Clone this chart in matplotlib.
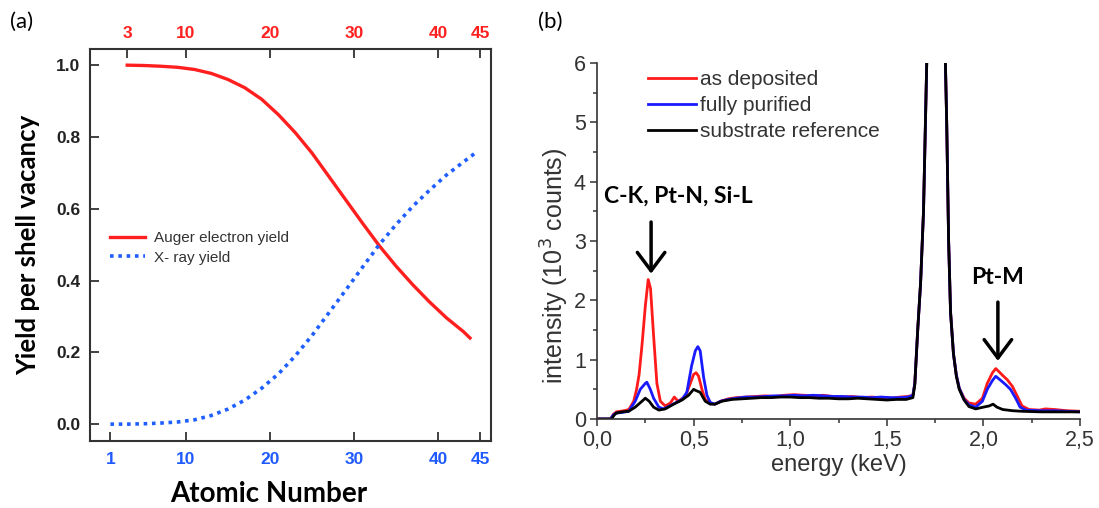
import matplotlib
matplotlib.use("Agg")
import matplotlib.pyplot as plt
from matplotlib.ticker import MultipleLocator
import numpy as np

# ---- panel (a): fluorescence / Auger yield vs atomic number ----
auger_z = [3, 5, 7, 9, 11, 13, 15, 17, 19, 21, 23, 25, 27, 29, 31, 33, 35, 37, 39, 41, 43, 43.8]
auger_yield = [1.0, 0.999, 0.997, 0.994, 0.988, 0.977, 0.960, 0.937, 0.905, 0.862, 0.812,
               0.755, 0.690, 0.625, 0.560, 0.497, 0.440, 0.388, 0.340, 0.296, 0.258, 0.240]
xray_z = [1, 3, 5, 7, 9, 11, 13, 15, 17, 19, 21, 23, 25, 27, 29, 31, 33, 35, 37, 39, 41, 43, 44.7]
xray_yield = [0.0, 0.0, 0.001, 0.003, 0.006, 0.012, 0.024, 0.042, 0.067, 0.100, 0.140, 0.190,
              0.247, 0.310, 0.373, 0.437, 0.500, 0.556, 0.607, 0.652, 0.694, 0.730, 0.760]
top_ticks = [3, 10, 20, 30, 40, 45]
bottom_ticks = [1, 10, 20, 30, 40, 45]

# ---- panel (b): EDX spectra (energy keV, 10^3 counts) ----
as_deposited = [
    (0.0, 0.0), (0.07, 0.0), (0.085, 0.08), (0.10, 0.12), (0.12, 0.13), (0.14, 0.14),
    (0.165, 0.16), (0.19, 0.30), (0.205, 0.50), (0.218, 0.75), (0.233, 1.25),
    (0.25, 1.90), (0.265, 2.35), (0.277, 2.20), (0.293, 1.40), (0.31, 0.60),
    (0.328, 0.30), (0.353, 0.22), (0.38, 0.27), (0.40, 0.37), (0.42, 0.30),
    (0.457, 0.38), (0.483, 0.60), (0.50, 0.75), (0.513, 0.78), (0.526, 0.72),
    (0.543, 0.50), (0.56, 0.33), (0.586, 0.27), (0.61, 0.25), (0.64, 0.30),
    (0.68, 0.34), (0.72, 0.36), (0.77, 0.37), (0.82, 0.38), (0.87, 0.39),
    (0.92, 0.38), (0.97, 0.40), (1.02, 0.41), (1.07, 0.40), (1.12, 0.39),
    (1.17, 0.40), (1.22, 0.38), (1.27, 0.37), (1.32, 0.38), (1.37, 0.36),
    (1.42, 0.37), (1.47, 0.36), (1.52, 0.35), (1.57, 0.37), (1.61, 0.38),
    (1.635, 0.40), (1.645, 0.60), (1.66, 1.50), (1.675, 2.30), (1.69, 3.50),
    (1.70, 5.00), (1.71, 6.50), (1.73, 10.0), (1.75, 13.0), (1.78, 10.0),
    (1.80, 6.50), (1.81, 5.00), (1.82, 3.00), (1.83, 1.80), (1.845, 1.10),
    (1.86, 0.74), (1.875, 0.52), (1.90, 0.35), (1.925, 0.27), (1.96, 0.25),
    (1.995, 0.35), (2.02, 0.60), (2.047, 0.78), (2.064, 0.85), (2.08, 0.80),
    (2.098, 0.74), (2.124, 0.66), (2.15, 0.55), (2.176, 0.38), (2.20, 0.22),
    (2.236, 0.16), (2.29, 0.15), (2.32, 0.17), (2.37, 0.16), (2.43, 0.14),
    (2.50, 0.13),
]
fully_purified = [
    (0.0, 0.0), (0.07, 0.0), (0.085, 0.07), (0.10, 0.10), (0.13, 0.11), (0.164, 0.13),
    (0.198, 0.30), (0.224, 0.50), (0.25, 0.60), (0.258, 0.62), (0.276, 0.50),
    (0.293, 0.35), (0.32, 0.20), (0.345, 0.17), (0.388, 0.24), (0.44, 0.33),
    (0.465, 0.45), (0.49, 0.90), (0.509, 1.15), (0.522, 1.22), (0.534, 1.15),
    (0.552, 0.70), (0.569, 0.40), (0.586, 0.28), (0.61, 0.25), (0.64, 0.30),
    (0.68, 0.33), (0.72, 0.35), (0.77, 0.37), (0.82, 0.37), (0.87, 0.38),
    (0.92, 0.39), (0.97, 0.39), (1.02, 0.40), (1.07, 0.39), (1.12, 0.40),
    (1.17, 0.39), (1.22, 0.38), (1.27, 0.38), (1.32, 0.37), (1.37, 0.37),
    (1.42, 0.36), (1.47, 0.37), (1.52, 0.36), (1.57, 0.36), (1.61, 0.37),
    (1.635, 0.40), (1.645, 0.60), (1.66, 1.50), (1.675, 2.30), (1.69, 3.50),
    (1.70, 5.00), (1.71, 6.50), (1.73, 10.0), (1.75, 13.0), (1.78, 10.0),
    (1.80, 6.50), (1.81, 5.00), (1.82, 3.00), (1.83, 1.80), (1.845, 1.10),
    (1.86, 0.74), (1.875, 0.52), (1.90, 0.33), (1.925, 0.24), (1.96, 0.20),
    (1.995, 0.30), (2.02, 0.50), (2.047, 0.65), (2.064, 0.72), (2.09, 0.65),
    (2.115, 0.58), (2.14, 0.50), (2.167, 0.35), (2.19, 0.20), (2.22, 0.15),
    (2.29, 0.14), (2.37, 0.14), (2.43, 0.13), (2.50, 0.12),
]
substrate_ref = [
    (0.0, 0.0), (0.075, 0.0), (0.09, 0.07), (0.10, 0.10), (0.13, 0.12), (0.164, 0.13),
    (0.198, 0.20), (0.233, 0.30), (0.25, 0.35), (0.27, 0.30), (0.293, 0.20),
    (0.32, 0.15), (0.353, 0.17), (0.397, 0.25), (0.44, 0.32), (0.474, 0.40),
    (0.50, 0.50), (0.512, 0.48), (0.534, 0.45), (0.56, 0.30), (0.586, 0.25),
    (0.61, 0.25), (0.647, 0.30), (0.70, 0.33), (0.75, 0.34), (0.80, 0.35),
    (0.85, 0.36), (0.90, 0.36), (0.95, 0.37), (1.00, 0.37), (1.05, 0.36),
    (1.10, 0.36), (1.15, 0.35), (1.20, 0.35), (1.25, 0.34), (1.30, 0.34),
    (1.35, 0.35), (1.40, 0.34), (1.45, 0.33), (1.50, 0.32), (1.55, 0.33),
    (1.60, 0.33), (1.635, 0.36), (1.645, 0.58), (1.66, 1.50), (1.675, 2.30),
    (1.69, 3.50), (1.70, 5.00), (1.71, 6.50), (1.73, 10.0), (1.75, 13.0),
    (1.78, 10.0), (1.80, 6.50), (1.81, 5.00), (1.82, 3.00), (1.83, 1.80),
    (1.845, 1.10), (1.86, 0.72), (1.875, 0.50), (1.90, 0.32), (1.925, 0.21),
    (1.96, 0.17), (2.00, 0.20), (2.03, 0.22), (2.05, 0.25), (2.07, 0.20),
    (2.10, 0.16), (2.15, 0.14), (2.20, 0.13), (2.30, 0.12), (2.40, 0.12),
    (2.50, 0.12),
]
spectra_labels = ["as deposited", "fully purified", "substrate reference"]
spectra_colors = ["#ff1a1a", "#1a1aff", "black"]

fig = plt.figure(figsize=(10.99, 5.08), dpi=100)
W, H = 1099, 508

# panel (a) ---------------------------------------------------------
ax1 = fig.add_axes([90 / W, (H - 441) / H, 401 / W, 392 / H])
ax1.plot(auger_z, auger_yield, color="#ff1f1f", lw=2.4, label="Auger electron yield")
ax1.plot(xray_z, xray_yield, color="#1f5fff", lw=2.6, ls=(0, (1, 1.3)), label="X- ray yield")
ax1.set_xlim(-1.43, 46.3)
ax1.set_ylim(-0.047, 1.045)
ax1.set_yticks([0.0, 0.2, 0.4, 0.6, 0.8, 1.0])
ax1.set_yticklabels(["0.0", "0.2", "0.4", "0.6", "0.8", "1.0"])
ax1.set_xticks(bottom_ticks)
for s in ax1.spines.values():
    s.set_color("#333333")
    s.set_linewidth(1.5)
ax1.tick_params(direction="in", length=6.5, width=1.3, color="#333333", pad=8)
ax1.tick_params(axis="x", labelcolor="#1f5aff")
ax1.tick_params(axis="y", labelcolor="#222222", pad=7)
for lab in ax1.get_xticklabels() + ax1.get_yticklabels():
    lab.set_fontfamily("Liberation Sans")
    lab.set_fontweight("bold")
    lab.set_fontsize(12.5)

sec = ax1.secondary_xaxis("top")
sec.set_xticks(top_ticks)
sec.tick_params(direction="in", length=6.5, width=1.3, color="#333333", labelcolor="#ff2020", pad=6)
for lab in sec.get_xticklabels():
    lab.set_fontfamily("Liberation Sans")
    lab.set_fontweight("bold")
    lab.set_fontsize(12.5)
sec.spines["top"].set_visible(False)

ax1.set_xlabel("Atomic Number", family="Lato", fontweight="bold", fontsize=20)
ax1.xaxis.label.set_va("center")
ax1.xaxis.set_label_coords(0.446, -0.135)
ax1.set_ylabel("Yield per shell vacancy", family="Lato", fontweight="bold", fontsize=18.5)
ax1.yaxis.label.set_va("center")
ax1.yaxis.set_label_coords(-0.155, 0.5)
leg1 = ax1.legend(loc="upper left", bbox_to_anchor=(0.05, 0.535), frameon=False,
                  borderpad=0, borderaxespad=0, handlelength=2.3, handletextpad=0.6,
                  labelspacing=0.35, prop={"family": "Liberation Sans", "size": 11})
for t in leg1.get_texts():
    t.set_color("#333333")

# panel (b) ---------------------------------------------------------
ax2 = fig.add_axes([597 / W, (H - 419) / H, 483 / W, 356 / H])
for pts, lab, col in zip([as_deposited, fully_purified, substrate_ref], spectra_labels, spectra_colors):
    arr = np.array(pts)
    ax2.plot(arr[:, 0], arr[:, 1], color=col, lw=2.0, label=lab)
ax2.set_xlim(0, 2.5)
ax2.set_ylim(0, 6)
ax2.spines["top"].set_visible(False)
ax2.spines["right"].set_visible(False)
for s in ("left", "bottom"):
    ax2.spines[s].set_color("#333333")
    ax2.spines[s].set_linewidth(1.2)
ax2.xaxis.set_major_locator(MultipleLocator(0.5))
ax2.xaxis.set_minor_locator(MultipleLocator(0.25))
ax2.yaxis.set_major_locator(MultipleLocator(1))
ax2.yaxis.set_minor_locator(MultipleLocator(0.5))
ax2.set_xticklabels([f"{v:.1f}".replace(".", ",") for v in ax2.get_xticks()])
ax2.tick_params(which="major", direction="out", length=5, width=1.1, color="#333333",
                labelsize=15.5, labelcolor="#333333", pad=3)
ax2.tick_params(which="minor", direction="out", length=3, width=1.1, color="#333333")
for lab in ax2.get_xticklabels() + ax2.get_yticklabels():
    lab.set_fontfamily("Liberation Sans")
ax2.set_xlabel("energy (keV)", family="Liberation Sans", fontsize=17, color="#333333", labelpad=2)
ax2.set_ylabel("intensity (10$^3$ counts)", family="Liberation Sans", fontsize=18,
               color="#333333")
ax2.yaxis.label.set_va("center")
ax2.yaxis.set_label_coords(-0.088, 0.43)
leg2 = ax2.legend(loc="upper left", bbox_to_anchor=(0.106, 0.98), frameon=False,
                  borderpad=0, borderaxespad=0, handlelength=2.3, handletextpad=0.2,
                  labelspacing=0.33, prop={"family": "Liberation Sans", "size": 15})
for t in leg2.get_texts():
    t.set_color("#333333")

arrow = dict(arrowstyle="->,head_length=0.6,head_width=0.45", lw=2.5, color="black",
             mutation_scale=22, shrinkA=0, shrinkB=0)
ax2.annotate("", xy=(0.28, 2.45), xytext=(0.28, 3.32), arrowprops=arrow)
ax2.annotate("", xy=(2.075, 0.98), xytext=(2.075, 1.97), arrowprops=arrow)
ax2.text(0.42, 3.76, "C-K, Pt-N, Si-L", family="Lato", fontweight="bold", fontsize=16.5,
         ha="center", va="center", color="black")
ax2.text(2.075, 2.38, "Pt-M", family="Lato", fontweight="bold", fontsize=16.5,
         ha="center", va="center", color="black")

fig.text(22 / W, 1 - 22 / H, "(a)", family="Lato", fontsize=16, ha="center", va="center")
fig.text(550 / W, 1 - 22 / H, "(b)", family="Lato", fontsize=16, ha="center", va="center")

fig.savefig("out.png", dpi=100)
